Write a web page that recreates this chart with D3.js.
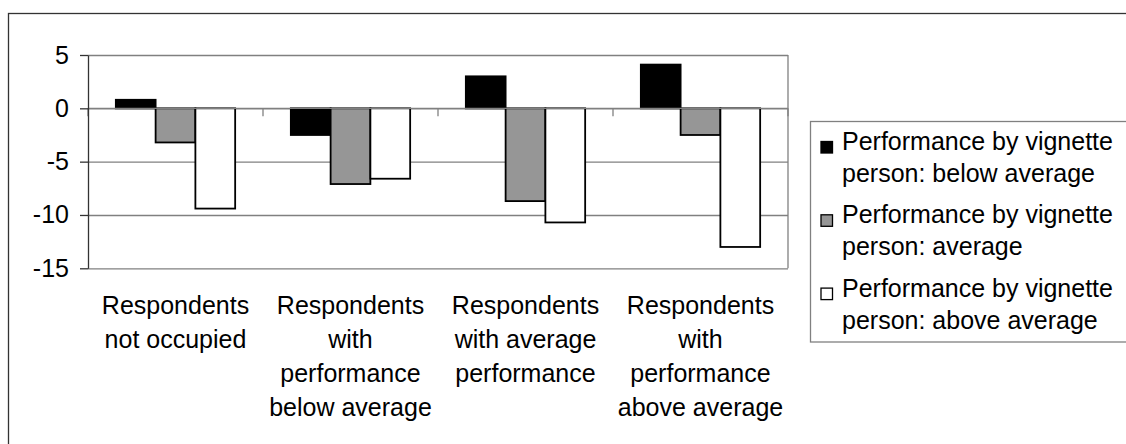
<!DOCTYPE html>
<html>
<head>
<meta charset="utf-8">
<script src="https://cdn.jsdelivr.net/npm/d3@7"></script>
<style>
  body { margin: 0; background: #fff; }
  text { font-family: "Liberation Sans", Arial, sans-serif; }
</style>
</head>
<body>
<script>
// data
var categories = ["c1", "c2", "c3", "c4"];
var categoryLines = [
  ["Respondents", "not occupied"],
  ["Respondents", "with", "performance", "below average"],
  ["Respondents", "with average", "performance"],
  ["Respondents", "with", "performance", "above average"]
];
var seriesNames = [
  ["Performance by vignette", "person: below average"],
  ["Performance by vignette", "person: average"],
  ["Performance by vignette", "person: above average"]
];
var belowAvg = [0.8, -2.5, 3.0, 4.1];
var avg = [-3.2, -7.1, -8.7, -2.5];
var aboveAvg = [-9.4, -6.6, -10.7, -13.0];
var yTicks = [5, 0, -5, -10, -15];
var colors = ["#000000", "#969696", "#ffffff"];

var series = [belowAvg, avg, aboveAvg];

var W = 1126, H = 444;
var plot = {left: 88, top: 55, right: 788, bottom: 268.3};

var svg = d3.select("body").append("svg")
    .attr("width", W)
    .attr("height", H);

// outer chart border (runs off the right/bottom edge)
svg.append("rect")
    .attr("x", 8.5).attr("y", 13.5)
    .attr("width", 1200).attr("height", 600)
    .style("fill", "none")
    .style("stroke", "#333")
    .style("stroke-width", 1.3);

var x = d3.scaleBand().domain(categories).range([plot.left, plot.right]);
var xInner = d3.scaleBand().domain([0, 1, 2])
    .range([0, x.bandwidth()])
    .paddingInner(0).paddingOuter(0.7);
var y = d3.scaleLinear().domain([-15, 5]).range([plot.bottom, plot.top]);

// gridlines
svg.append("g")
    .attr("transform", "translate(" + plot.left + ",0)")
    .call(d3.axisLeft(y).tickValues(yTicks).tickSize(-(plot.right - plot.left)).tickFormat(""))
    .call(function(g) { g.select(".domain").remove(); })
    .selectAll("line")
    .style("stroke", "#808080")
    .style("stroke-width", 1.3);

// right edge of plot area
svg.append("line")
    .attr("x1", plot.right).attr("x2", plot.right)
    .attr("y1", y(5)).attr("y2", y(-15))
    .style("stroke", "#808080")
    .style("stroke-width", 1.3);

// bars
for (var s = 0; s < series.length; s++) {
  svg.append("g").selectAll("rect")
    .data(series[s])
    .enter()
    .append("rect")
    .attr("x", function(d, i) { return x(categories[i]) + xInner(s); })
    .attr("width", xInner.bandwidth())
    .attr("y", function(d) { return y(Math.max(0, d)); })
    .attr("height", function(d) { return Math.abs(y(d) - y(0)); })
    .style("fill", colors[s])
    .style("stroke", "#000")
    .style("stroke-width", 1.8);
}

// category axis at zero with tick marks between groups
svg.append("line")
    .attr("x1", plot.left).attr("x2", plot.right)
    .attr("y1", y(0)).attr("y2", y(0))
    .style("stroke", "#808080")
    .style("stroke-width", 1.3);
var bounds = categories.map(function(c) { return x(c); }).concat([plot.right]);
svg.append("g").selectAll("line")
    .data(bounds)
    .enter()
    .append("line")
    .attr("x1", function(d) { return d; })
    .attr("x2", function(d) { return d; })
    .attr("y1", y(0))
    .attr("y2", y(0) + 8)
    .style("stroke", "#808080")
    .style("stroke-width", 1.3);

// value axis (plain hyphen for negatives, as in the original)
var yAxis = svg.append("g")
    .attr("transform", "translate(" + plot.left + ",0)")
    .call(d3.axisLeft(y).tickValues(yTicks).tickSize(8).tickSizeOuter(0).tickPadding(11)
      .tickFormat(function(d) { return String(d); }));
yAxis.select(".domain").style("stroke", "#333").style("stroke-width", 1.3);
yAxis.selectAll(".tick line").style("stroke", "#333").style("stroke-width", 1.3);
yAxis.selectAll("text")
    .style("font-family", "'Liberation Sans', Arial, sans-serif")
    .style("font-size", "25px")
    .style("fill", "#000");

// category labels
var catLabels = svg.append("g").selectAll("text")
    .data(categoryLines)
    .enter()
    .append("text")
    .attr("text-anchor", "middle")
    .style("font-size", "25px")
    .style("fill", "#000");
catLabels.each(function(lines, i) {
  var cx = x(categories[i]) + x.bandwidth() / 2;
  d3.select(this).selectAll("tspan")
    .data(lines)
    .enter()
    .append("tspan")
    .attr("x", cx)
    .attr("y", function(d, j) { return 314 + j * 34; })
    .text(function(d) { return d; });
});

// legend
var legend = svg.append("g");
legend.append("rect")
    .attr("x", 810.5).attr("y", 121.5)
    .attr("width", 400).attr("height", 220.5)
    .style("fill", "#fff")
    .style("stroke", "#808080")
    .style("stroke-width", 1.3);
var entries = legend.selectAll("g.entry")
    .data(seriesNames)
    .enter()
    .append("g")
    .attr("class", "entry");
entries.append("rect")
    .attr("x", 821)
    .attr("y", function(d, i) { return 150 + i * 73.3 - 8.5; })
    .attr("width", 11.5)
    .attr("height", 11.5)
    .style("fill", function(d, i) { return colors[i]; })
    .style("stroke", "#000")
    .style("stroke-width", 1.3);
entries.append("text")
    .style("font-size", "25px")
    .style("fill", "#000")
    .each(function(lines, i) {
      d3.select(this).selectAll("tspan")
        .data(lines)
        .enter()
        .append("tspan")
        .attr("x", 842)
        .attr("y", function(d, j) { return 150 + i * 73.3 + j * 32; })
        .text(function(d) { return d; });
    });
</script>
</body>
</html>
